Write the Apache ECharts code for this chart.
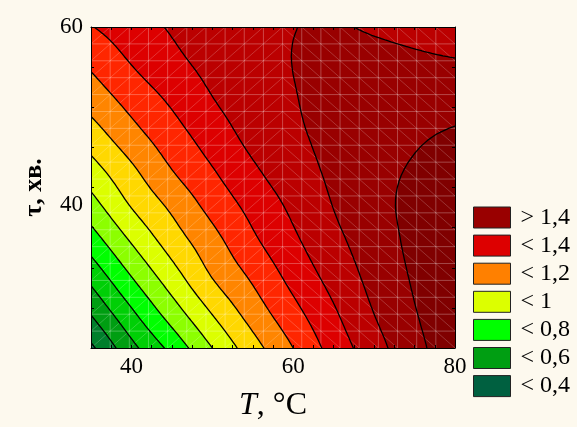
<!DOCTYPE html>
<html>
<head>
<meta charset="utf-8">
<script src="https://cdn.jsdelivr.net/npm/echarts@6/dist/echarts.min.js"></script>
<style>
  html, body { margin: 0; padding: 0; background: #fdf9ee; }
  #chart { width: 577px; height: 427px; }
</style>
</head>
<body>
<div id="chart"></div>
<script>
// Grid nodes of the response surface: temperature (°C) and duration (min)
const tempValues = [35, 40, 45, 50, 55, 60, 65, 70, 75, 80];
const timeValues = [24, 28, 32, 36, 40, 44, 48, 52, 56, 60];

// Response values, one row per duration; columns follow tempValues
const zAt24 = [0.38, 0.57, 0.73, 0.90, 1.06, 1.20, 1.34, 1.46, 1.572, 1.658];
const zAt28 = [0.51, 0.685, 0.85, 1.007, 1.146, 1.27, 1.388, 1.502, 1.595, 1.666];
const zAt32 = [0.63, 0.80, 0.956, 1.104, 1.216, 1.332, 1.435, 1.531, 1.611, 1.67];
const zAt36 = [0.75, 0.908, 1.047, 1.166, 1.282, 1.382, 1.474, 1.552, 1.622, 1.668];
const zAt40 = [0.861, 1.007, 1.121, 1.234, 1.332, 1.421, 1.503, 1.569, 1.624, 1.657];
const zAt44 = [0.961, 1.083, 1.20, 1.295, 1.386, 1.46, 1.518, 1.57, 1.609, 1.635];
const zAt48 = [1.056, 1.166, 1.261, 1.349, 1.431, 1.485, 1.524, 1.556, 1.586, 1.611];
const zAt52 = [1.143, 1.237, 1.318, 1.398, 1.457, 1.496, 1.524, 1.539, 1.547, 1.553];
const zAt56 = [1.219, 1.304, 1.374, 1.429, 1.469, 1.501, 1.512, 1.515, 1.512, 1.506];
const zAt60 = [1.296, 1.354, 1.41, 1.452, 1.482, 1.499, 1.503, 1.495, 1.482, 1.462];

// Contour levels and the fill colour of each band between them (lowest first)
const contourLevels = [0.4, 0.5, 0.6, 0.7, 0.8, 0.9, 1.0, 1.1, 1.2, 1.3, 1.4, 1.5, 1.6];
const bandColors = ['#006040', '#007f2c', '#009e12', '#00cf06', '#00ff00', '#8cff00', '#dcff00',
                    '#ffd800', '#ff8500', '#ff2600', '#dd0000', '#bb0000', '#990000', '#800000'];

// Legend classes
const legendLabels = ['> 1,4', '< 1,4', '< 1,2', '< 1', '< 0,8', '< 0,6', '< 0,4'];
const legendColors = ['#990000', '#dd0000', '#ff8000', '#dcff00', '#00ff00', '#009e12', '#006040'];

// Axis tick labels and the small frame ticks
const tempTicks = [40, 60, 80];
const timeTicks = [40, 60];
const tempFrameTicks = [37.5, 40, 42.5, 45, 47.5, 50, 52.5, 55, 57.5, 60, 62.5, 65, 67.5, 70, 72.5, 75, 77.5];
const timeFrameTicks = [28.5, 33, 37.5, 42, 46.5, 51, 55.5];

const surfaceRows = [zAt24, zAt28, zAt32, zAt36, zAt40, zAt44, zAt48, zAt52, zAt56, zAt60];

// ---- surface sampling (Catmull-Rom between grid nodes, linear extension at the edges)
const nCols = tempValues.length, nRows = timeValues.length;
function node(i, j) {
  if (i < 0) return 2 * node(0, j) - node(1, j);
  if (i > nCols - 1) return 2 * node(nCols - 1, j) - node(nCols - 2, j);
  if (j < 0) return 2 * node(i, 0) - node(i, 1);
  if (j > nRows - 1) return 2 * node(i, nRows - 1) - node(i, nRows - 2);
  return surfaceRows[j][i];
}
function cr(p0, p1, p2, p3, t) {
  return 0.5 * (2 * p1 + (-p0 + p2) * t + (2 * p0 - 5 * p1 + 4 * p2 - p3) * t * t +
                (-p0 + 3 * p1 - 3 * p2 + p3) * t * t * t);
}
function sampleZ(u, v) {
  const i = Math.min(Math.floor(u), nCols - 2), j = Math.min(Math.floor(v), nRows - 2);
  const fu = u - i, fv = v - j;
  const r = [];
  for (let k = -1; k <= 2; k++) {
    r.push(cr(node(i - 1, j + k), node(i, j + k), node(i + 1, j + k), node(i + 2, j + k), fu));
  }
  return cr(r[0], r[1], r[2], r[3], fv);
}
function axisAt(arr, u) {
  const i = Math.min(Math.floor(u), arr.length - 2);
  return arr[i] + (arr[i + 1] - arr[i]) * (u - i);
}

// ---- shapes made of many sub-paths
echarts.graphic.registerShape('polySet', echarts.graphic.extendShape({
  shape: { polys: [] },
  buildPath(ctx, shape) {
    for (const p of shape.polys) {
      ctx.moveTo(p[0], p[1]);
      for (let k = 2; k < p.length; k += 2) ctx.lineTo(p[k], p[k + 1]);
      ctx.closePath();
    }
  }
}));
echarts.graphic.registerShape('segSet', echarts.graphic.extendShape({
  shape: { segs: [] },
  buildPath(ctx, shape) {
    const s = shape.segs;
    for (let k = 0; k < s.length; k += 4) { ctx.moveTo(s[k], s[k + 1]); ctx.lineTo(s[k + 2], s[k + 3]); }
  }
}));

const SUB = 6;       // sampling steps per grid cell
const MESH = 19;     // cells of the drawn triangulation mesh per side

function renderSurface(params, api) {
  const nu = (nCols - 1) * SUB + 1, nv = (nRows - 1) * SUB + 1;
  const P = [];
  for (let j = 0; j < nv; j++) {
    const row = [];
    for (let i = 0; i < nu; i++) {
      const u = i / SUB, v = j / SUB;
      const c = api.coord([axisAt(tempValues, u), axisAt(timeValues, v)]);
      row.push([c[0], c[1], sampleZ(u, v)]);
    }
    P.push(row);
  }
  const tris = [];
  for (let j = 0; j < nv - 1; j++) {
    for (let i = 0; i < nu - 1; i++) {
      const a = P[j][i], b = P[j][i + 1], c = P[j + 1][i + 1], d = P[j + 1][i];
      tris.push([a, b, c], [a, c, d]);
    }
  }
  const cut = (p, q, L) => {
    const t = (L - p[2]) / (q[2] - p[2]);
    return [p[0] + (q[0] - p[0]) * t, p[1] + (q[1] - p[1]) * t, L];
  };
  const children = [];
  // lowest band covers the whole plot
  const x0 = P[0][0][0], y0 = P[0][0][1], x1 = P[nv - 1][nu - 1][0], y1 = P[nv - 1][nu - 1][1];
  children.push({ type: 'polySet', shape: { polys: [[x0, y0, x1, y0, x1, y1, x0, y1]] },
                  style: { fill: bandColors[0] } });
  // each level adds the part of the surface lying above it
  contourLevels.forEach((L, k) => {
    const polys = [];
    for (const t of tris) {
      const out = [];
      for (let e = 0; e < 3; e++) {
        const p = t[e], q = t[(e + 1) % 3];
        const pin = p[2] >= L, qin = q[2] >= L;
        if (pin) out.push(p[0], p[1]);
        if (pin !== qin) { const m = cut(p, q, L); out.push(m[0], m[1]); }
      }
      if (out.length >= 6) polys.push(out);
    }
    children.push({ type: 'polySet', shape: { polys },
                    style: { fill: bandColors[k + 1], stroke: null } });
  });
  // triangulation mesh
  const gridSegs = [], diagSegs = [];
  const tMin = tempValues[0], tMax = tempValues[nCols - 1];
  const sMin = timeValues[0], sMax = timeValues[nRows - 1];
  const mx = k => tMin + (tMax - tMin) * k / MESH;
  const my = k => sMin + (sMax - sMin) * k / MESH;
  for (let k = 1; k < MESH; k++) {
    const a = api.coord([mx(k), sMin]), b = api.coord([mx(k), sMax]);
    gridSegs.push(a[0], a[1], b[0], b[1]);
    const c = api.coord([tMin, my(k)]), d = api.coord([tMax, my(k)]);
    gridSegs.push(c[0], c[1], d[0], d[1]);
  }
  for (let i = 0; i < MESH; i++) {
    for (let j = 0; j < MESH; j++) {
      const rising = i < MESH / 2;
      const a = api.coord([mx(i), my(rising ? j : j + 1)]);
      const b = api.coord([mx(i + 1), my(rising ? j + 1 : j)]);
      diagSegs.push(a[0], a[1], b[0], b[1]);
    }
  }
  children.push({ type: 'segSet', shape: { segs: gridSegs },
                  style: { fill: null, stroke: 'rgba(255,255,255,0.28)', lineWidth: 1 } });
  children.push({ type: 'segSet', shape: { segs: diagSegs },
                  style: { fill: null, stroke: 'rgba(255,255,255,0.20)', lineWidth: 1 } });
  // contour lines
  const lineSegs = [];
  for (const L of contourLevels) {
    for (const t of tris) {
      const pts = [];
      for (let e = 0; e < 3; e++) {
        const p = t[e], q = t[(e + 1) % 3];
        if ((p[2] >= L) !== (q[2] >= L)) { const m = cut(p, q, L); pts.push(m[0], m[1]); }
      }
      if (pts.length === 4) lineSegs.push(pts[0], pts[1], pts[2], pts[3]);
    }
  }
  children.push({ type: 'segSet', shape: { segs: lineSegs },
                  style: { fill: null, stroke: '#000', lineWidth: 1.3, lineCap: 'round' } });
  return { type: 'group', children };
}

const serif = 'Liberation Serif, Times New Roman, serif';
const chart = echarts.init(document.getElementById('chart'), null, { renderer: 'canvas' });

const legendSeries = legendLabels.map((name, k) => ({
  type: 'custom', name, data: [], color: legendColors[k],
  itemStyle: { color: legendColors[k] }, renderItem: () => null
}));

const frameTick = { show: true, inside: true, length: 3, lineStyle: { color: '#000', width: 1 } };

chart.setOption({
  animation: false,
  backgroundColor: '#fdf9ee',
  grid: { left: 91, top: 27, width: 364, height: 321 },
  xAxis: [{
    type: 'value', min: tempValues[0], max: tempValues[nCols - 1], position: 'bottom', z: 10,
    axisLine: { show: true, lineStyle: { color: '#000', width: 1 } },
    axisTick: Object.assign({ customValues: tempFrameTicks }, frameTick),
    axisLabel: { customValues: tempTicks, fontSize: 23, fontFamily: serif, color: '#000', margin: 7 },
    splitLine: { show: false },
    name: '{i|T}, °C', nameLocation: 'middle', nameGap: 42,
    nameTextStyle: { fontSize: 32, fontFamily: serif, color: '#000',
      rich: { i: { fontStyle: 'italic', fontSize: 32, fontFamily: serif, color: '#000' } } }
  }, {
    type: 'value', min: tempValues[0], max: tempValues[nCols - 1], position: 'top', z: 10,
    axisLine: { show: true, lineStyle: { color: '#000', width: 1 } },
    axisTick: Object.assign({ customValues: tempFrameTicks }, frameTick),
    axisLabel: { show: false }, splitLine: { show: false }
  }],
  yAxis: [{
    type: 'value', min: timeValues[0], max: timeValues[nRows - 1], position: 'left', z: 10,
    axisLine: { show: true, lineStyle: { color: '#000', width: 1 } },
    axisTick: Object.assign({ customValues: timeFrameTicks }, frameTick),
    axisLabel: { customValues: timeTicks, fontSize: 23, fontFamily: serif, color: '#000', margin: 8 },
    splitLine: { show: false },
    name: 'τ, хв.', nameLocation: 'middle', nameGap: 44,
    nameTextStyle: { fontSize: 26, fontWeight: 'bold', fontFamily: serif, color: '#000' }
  }, {
    type: 'value', min: timeValues[0], max: timeValues[nRows - 1], position: 'right', z: 10,
    axisLine: { show: true, lineStyle: { color: '#000', width: 1 } },
    axisTick: Object.assign({ customValues: timeFrameTicks }, frameTick),
    axisLabel: { show: false }, splitLine: { show: false }
  }],
  legend: {
    orient: 'vertical', left: 473, top: 205.5, padding: 0,
    itemWidth: 37, itemHeight: 21, itemGap: 4.1,
    icon: 'rect', selectedMode: false, data: legendLabels,
    itemStyle: { borderColor: '#222', borderWidth: 1 },
    textStyle: { fontSize: 24, fontFamily: serif, color: '#000', padding: [0, 0, 0, 5] }
  },
  series: [{
    type: 'custom', name: 'surface', clip: true, silent: true,
    xAxisIndex: 0, yAxisIndex: 0,
    data: [[tempValues[0], timeValues[0]]],
    renderItem: renderSurface
  }].concat(legendSeries)
});
</script>
</body>
</html>
